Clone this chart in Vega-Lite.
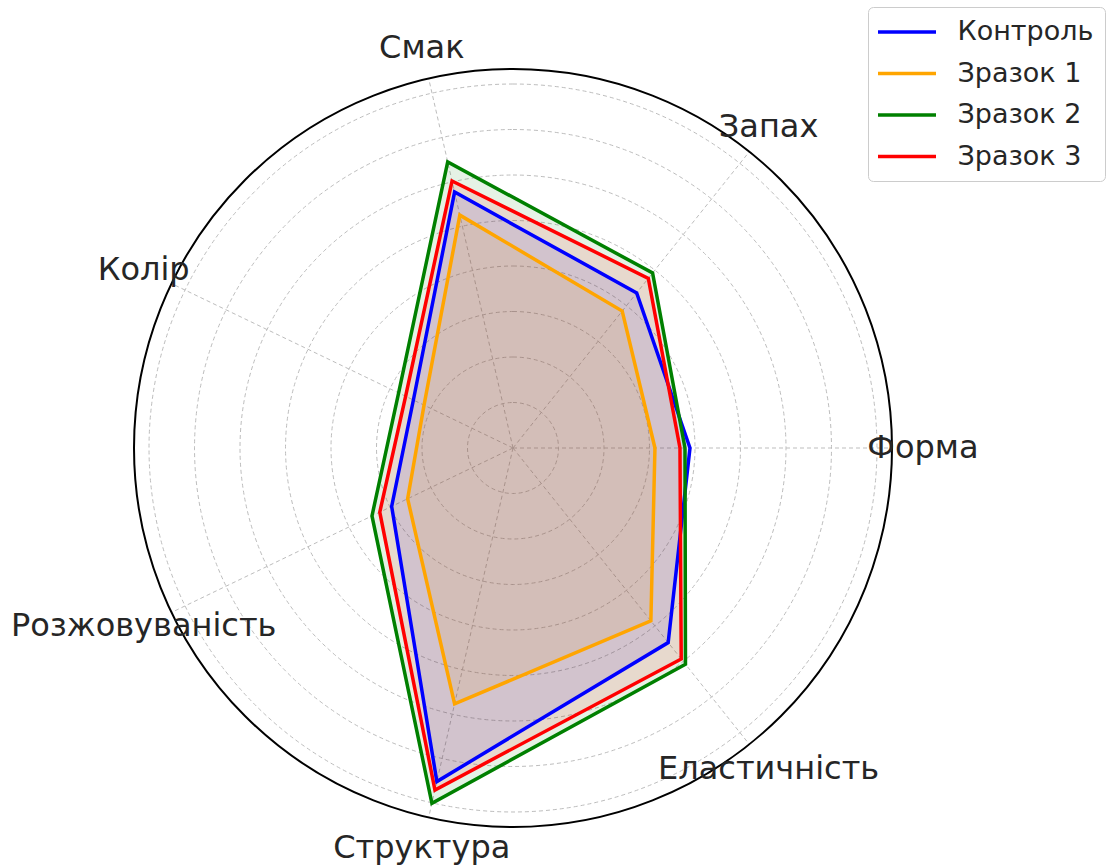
{
  "$schema": "https://vega.github.io/schema/vega-lite/v6.json",
  "width": 758,
  "height": 758,
  "autosize": {"type": "none"},
  "padding": {"left": 134, "top": 69, "right": 220, "bottom": 38},
  "background": "white",
  "config": {"view": {"stroke": null}, "font": "DejaVu Sans"},
  "datasets": {
    "scores": [
      {"sample": "Контроль", "attr": "Форма", "v": 3.89},
      {"sample": "Контроль", "attr": "Запах", "v": 4.36},
      {"sample": "Контроль", "attr": "Смак", "v": 5.77},
      {"sample": "Контроль", "attr": "Колір", "v": 2.43},
      {"sample": "Контроль", "attr": "Розжовуваність", "v": 2.96},
      {"sample": "Контроль", "attr": "Структура", "v": 7.52},
      {"sample": "Контроль", "attr": "Еластичність", "v": 5.47},
      {"sample": "Зразок 1", "attr": "Форма", "v": 3.12},
      {"sample": "Зразок 1", "attr": "Запах", "v": 3.85},
      {"sample": "Зразок 1", "attr": "Смак", "v": 5.25},
      {"sample": "Зразок 1", "attr": "Колір", "v": 2.17},
      {"sample": "Зразок 1", "attr": "Розжовуваність", "v": 2.57},
      {"sample": "Зразок 1", "attr": "Структура", "v": 5.77},
      {"sample": "Зразок 1", "attr": "Еластичність", "v": 4.86},
      {"sample": "Зразок 2", "attr": "Форма", "v": 3.78},
      {"sample": "Зразок 2", "attr": "Запах", "v": 4.92},
      {"sample": "Зразок 2", "attr": "Смак", "v": 6.45},
      {"sample": "Зразок 2", "attr": "Колір", "v": 2.79},
      {"sample": "Зразок 2", "attr": "Розжовуваність", "v": 3.44},
      {"sample": "Зразок 2", "attr": "Структура", "v": 8.01},
      {"sample": "Зразок 2", "attr": "Еластичність", "v": 6.08},
      {"sample": "Зразок 3", "attr": "Форма", "v": 3.67},
      {"sample": "Зразок 3", "attr": "Запах", "v": 4.77},
      {"sample": "Зразок 3", "attr": "Смак", "v": 6.02},
      {"sample": "Зразок 3", "attr": "Колір", "v": 2.62},
      {"sample": "Зразок 3", "attr": "Розжовуваність", "v": 3.25},
      {"sample": "Зразок 3", "attr": "Структура", "v": 7.71},
      {"sample": "Зразок 3", "attr": "Еластичність", "v": 5.93}
    ],
    "grid": [{"r": 1}, {"r": 2}, {"r": 3}, {"r": 4}, {"r": 5}, {"r": 6}, {"r": 7}, {"r": 8}],
    "axes": [
      {"attr": "Форма"}, {"attr": "Запах"}, {"attr": "Смак"}, {"attr": "Колір"},
      {"attr": "Розжовуваність"}, {"attr": "Структура"}, {"attr": "Еластичність"}
    ],
    "rim": [{"r": 8.33}]
  },
  "layer": [
    {
      "data": {"name": "grid"},
      "mark": {"type": "arc", "filled": false, "stroke": "#bdbdbd", "strokeWidth": 1, "strokeDash": [4, 3], "theta": 0, "theta2": 6.2832},
      "encoding": {
        "radius": {"field": "r", "type": "quantitative", "stack": null, "scale": {"type": "linear", "domain": [0, 8.33], "range": [0, 379], "zero": true, "nice": false}}
      }
    },
    {
      "data": {"name": "axes"},
      "transform": [
        {"calculate": "indexof(['Форма','Запах','Смак','Колір','Розжовуваність','Структура','Еластичність'], datum.attr) * 2 * PI / 7", "as": "a"},
        {"calculate": "8.33 * cos(datum.a)", "as": "ex"},
        {"calculate": "8.33 * sin(datum.a)", "as": "ey"},
        {"calculate": "0", "as": "o"}
      ],
      "mark": {"type": "rule", "stroke": "#bdbdbd", "strokeWidth": 1, "strokeDash": [4, 3]},
      "encoding": {
        "x": {"field": "o", "type": "quantitative", "scale": {"domain": [-8.33, 8.33], "nice": false, "zero": false}, "axis": null},
        "y": {"field": "o", "type": "quantitative", "scale": {"domain": [-8.33, 8.33], "nice": false, "zero": false}, "axis": null},
        "x2": {"field": "ex"},
        "y2": {"field": "ey"}
      }
    },
    {
      "data": {"name": "scores"},
      "transform": [
        {"calculate": "indexof(['Форма','Запах','Смак','Колір','Розжовуваність','Структура','Еластичність'], datum.attr) * 2 * PI / 7", "as": "a"},
        {"calculate": "datum.v * cos(datum.a)", "as": "px"},
        {"calculate": "datum.v * sin(datum.a)", "as": "py"}
      ],
      "mark": {"type": "line", "interpolate": "linear-closed", "strokeWidth": 0, "stroke": "transparent", "fillOpacity": 0.1},
      "encoding": {
        "x": {"field": "px", "type": "quantitative", "scale": {"domain": [-8.33, 8.33], "nice": false, "zero": false}, "axis": null},
        "y": {"field": "py", "type": "quantitative", "scale": {"domain": [-8.33, 8.33], "nice": false, "zero": false}, "axis": null},
        "order": {"field": "a", "type": "quantitative"},
        "fill": {
          "field": "sample", "type": "nominal",
          "scale": {"domain": ["Зразок 3", "Зразок 2", "Зразок 1", "Контроль"], "range": ["#ff0000", "#008000", "#ffa500", "#0000ff"]},
          "legend": null
        }
      }
    },
    {
      "data": {"name": "scores"},
      "transform": [
        {"calculate": "indexof(['Форма','Запах','Смак','Колір','Розжовуваність','Структура','Еластичність'], datum.attr) * 2 * PI / 7", "as": "a"},
        {"calculate": "datum.v * cos(datum.a)", "as": "px"},
        {"calculate": "datum.v * sin(datum.a)", "as": "py"}
      ],
      "mark": {"type": "line", "interpolate": "linear-closed", "strokeWidth": 3.5},
      "encoding": {
        "x": {"field": "px", "type": "quantitative", "scale": {"domain": [-8.33, 8.33], "nice": false, "zero": false}, "axis": null},
        "y": {"field": "py", "type": "quantitative", "scale": {"domain": [-8.33, 8.33], "nice": false, "zero": false}, "axis": null},
        "order": {"field": "a", "type": "quantitative"},
        "stroke": {
          "field": "sample", "type": "nominal",
          "scale": {"domain": ["Контроль", "Зразок 1", "Зразок 2", "Зразок 3"], "range": ["#0000ff", "#ffa500", "#008000", "#ff0000"]},
          "legend": {
            "orient": "none", "legendX": 734, "legendY": -62, "title": null,
            "symbolType": "M-2.9,0H2.9", "symbolSize": 400, "symbolStrokeWidth": 3.5,
            "symbolOffset": 14, "labelOffset": 37,
            "labelFontSize": 27, "labelFont": "DejaVu Sans", "labelColor": "#262626",
            "padding": 11.5, "rowPadding": 13.5,
            "strokeColor": "#cccccc", "cornerRadius": 5, "fillColor": "white"
          }
        }
      }
    },
    {
      "data": {"name": "rim"},
      "mark": {"type": "arc", "filled": false, "stroke": "#000000", "strokeWidth": 2, "theta": 0, "theta2": 6.2832},
      "encoding": {
        "radius": {"field": "r", "type": "quantitative", "stack": null, "scale": {"type": "linear", "domain": [0, 8.33], "range": [0, 379], "zero": true, "nice": false}}
      }
    },
    {
      "data": {"name": "axes"},
      "transform": [
        {"calculate": "indexof(['Форма','Запах','Смак','Колір','Розжовуваність','Структура','Еластичність'], datum.attr) * 2 * PI / 7", "as": "a"},
        {"calculate": "9.01 * cos(datum.a)", "as": "lx"},
        {"calculate": "9.01 * sin(datum.a)", "as": "ly"}
      ],
      "mark": {"type": "text", "fontSize": 32, "font": "DejaVu Sans", "color": "#262626", "align": "center", "baseline": "middle"},
      "encoding": {
        "x": {"field": "lx", "type": "quantitative", "scale": {"domain": [-8.33, 8.33], "nice": false, "zero": false}, "axis": null},
        "y": {"field": "ly", "type": "quantitative", "scale": {"domain": [-8.33, 8.33], "nice": false, "zero": false}, "axis": null},
        "text": {"field": "attr", "type": "nominal"}
      }
    }
  ]
}
